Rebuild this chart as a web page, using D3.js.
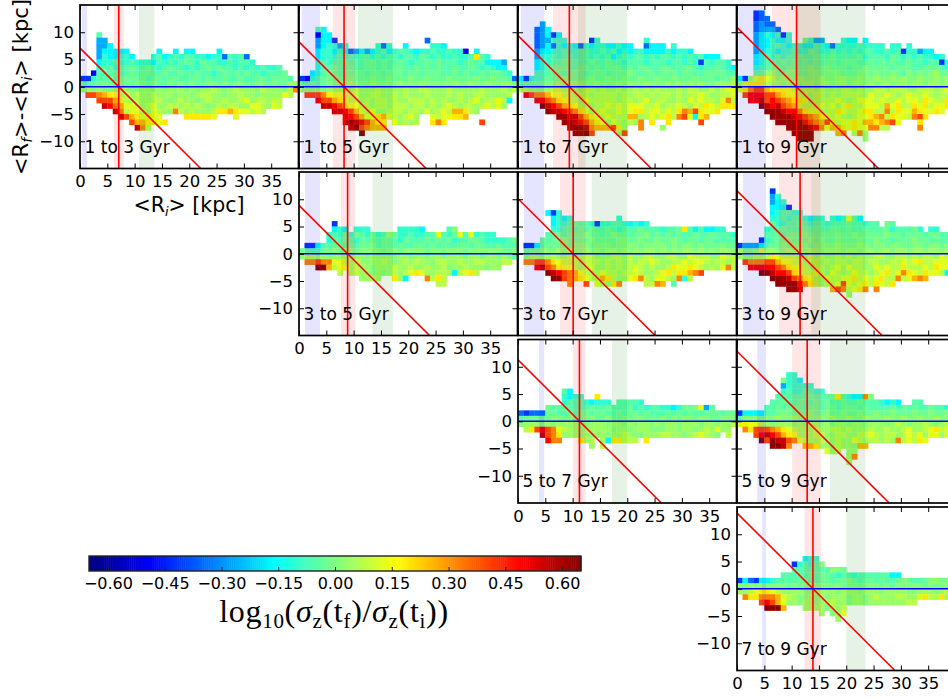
<!DOCTYPE html>
<html><head><meta charset="utf-8">
<script src="https://cdn.jsdelivr.net/npm/d3@7/dist/d3.min.js"></script>
<style>
html,body{margin:0;padding:0;background:#fff;overflow:hidden}
text{font-family:"DejaVu Sans",sans-serif;fill:#000}
</style></head><body><svg id="c" width="948" height="699"></svg>
<script>
// colour level of each letter in the data rows (log10 sigma ratio)
const levelKeys = "abcdefghijklmnopqrst".split("");
const levelVals = [-.6,-.5,-.42,-.35,-.27,-.17,-.1,-.055,-.025,.005,.035,.075,.125,.19,.26,.32,.4,.48,.56,.63];

// Each row is one 1 kpc bin in y, one letter per 1 kpc bin in x; the first row starts at the named top bin.
const top13 = 9;
const rows13 = [
"...h.","...ee","...ee f....",
"...ef ffff. ....f ..f.f f.... f....",
"...eg ffggf ...gh fghgh hggfg gdhgh d....",
"...fg ghggh gggfh ghghi hgihh gghgh hg...",
"...gh hghhi hhihg hihhg hghih ihhgh ghghg gh...",
"..bhh hihhi hiihh ihhih hihhg hihih ihhgh hhi..",
"ccghh ihiii iihii hiihh iihih hihhi hhiih iiih.",
"ihiij ijjii jjiji ijiji jiijj ijijj iijji jiikk",
"kkjkj jkkkj jkkjk jkkkj kjkkl kjklk kkjlk kkjlp",
".qqpo nmllk lkklk kkjkk jkllk kjkkl kkjkk kkml.",
"...qq qomlk lkkll kjklk kjklk klkkl mkllk ll...",
"....s rpomm lklmk kllkl klkjk lkllk kmmlk ml...",
"..... .splm mlkml kkplk lkkkl nnonm mlml. .....",
"..... ..sqo nmnmm ....n nnnnm ...m. .....",
"..... ....q oonnm n....",
"..... ..... spl.."];

const top15 = 10;
const rows15 = [
"...hf",
"...bf f....",
"...ef fc... ..... ..... ...d.",
"...ef ggeg. ....g dg..f ....g gf... ..... .....",
"...fg gfgfd efefg hfghh gfggh gghgg b.f.. .....",
"...fg gghgh ghhgh ghhgh hgihg hgghg ghnhg .....",
"...gh ghhih hhiih ihhih ghhih ihhhg hihhf ffe..",
"...gh hihhi hhiih ihiih hihih ihhih hihgh gff..",
"..fgh iihii iihii hiiih iihii ihhih ihhih iihg.",
"cbghi iiiij iiiji ijiii jiiji iijii iijii jiihd",
"iijii jjjjk jjjkj jjjkj jjkjj jjjkj jkjjk jjkkj",
"kkkkj kkkkk lkkkl kkkkl kkllk kklkk kkklk kklkl",
".qqqp nmmll lkkll kklkl kkklk kklkl kkllk kkkl.",
"...rq qonml lklkl lklkk lllkl klkkl klmkl lmlf.",
"....s srqnm mllkl lklll kllkl klmlk llklm lmk..",
"..... .ssrq omlmk klllk llkmk lmloo nlk.. .....",
"..... ...sr qommn omlkl mk..m lmmnn o.... .....",
"..... ...st srqon n.mkl kl..n pn... ...q. .....",
"..... ....s tqpoo o....",
"..... ..... .t..."];

const top17 = 11;
const rows17 = [
"....e",
"...de f....",
"...de fcf..",
"...de eggg. ...cg ..... ...g. .....",
"...de fdgfg fdgfg gffgf f..df ff.g. .....",
"...ef fgghg ghhgg hghfg fggff ffgfg gf... .....",
"...eg ghghh ghhgh ghfgh ghhgh ghhgh ghghf ff...",
"...fg ghhih hhhih hihhg hhhgh hhghh ghgch ghhg.",
"...fg hiiih hiihi hiiih ihiih hiihh iihgh hihgf",
"...hh hiihi iihii ihiii jihii hiiih iihhi iiihh",
"fcghh iiiji iiiji ijiij iijii jiiji iijii ihiik",
"hjjjj jjkjk jkjjk jjjkj kjjkj jjkjk jkjkj jkkkl",
"llkkk kllkl kkllk lkklk klklk lkkkl kllkk lklmm",
".rqpp ommll kllkl lllkl kllkl kllkl kllml kkllm",
"...rr qpnml lkmll lllkl lklmk llkkl kmlml lkmpl",
"....t srqon mllkl lmlml mmmll mkllm lkmln mlnnn",
"..... tssrq pnmkl mllml mnnlm mlmln poqnm mn...",
"..... ..tts sqonm lmlll ooklm lmnlp qmfno .....",
"..... ...tt srqon mkmlk lkp.n ..n.. ...q. .....",
"..... ....t ttspo ooqnk ..p.. .k... ..... .....",
"..... ..... tttq. ...kq"];

const top19 = 13;
const rows19 = [
"...cd",
"...cd d....",
"...de dd...",
"...de eed..",
"...ef gfgcg",
"...ef fgffg ..jge e...g ff.f. ..... .....",
"...ef fghgf ggffh gfdgg gghgg gg.gg .g... .....",
"...ef ggfgg hggih gghgh ghghh gghgh cggef f....",
"...fg hghgh hihhi hhihh hhigh hhgih ghghg gfg..",
"...fg hhhih ihihi hiihi iihhi hihih hihhg hhcg.",
"...gh hiihi iiiji ijiii hiiji iiihi iihhi iihgh",
"...ii kkiij jiijj ijjji iijji jiiji hjiji jkiij",
"fckmn mljkj jkjjj kjjkk jjkjj kjjkj kjjkj jkjkk",
"kmnnn lkkjk kjkkj kkjkk jkkjk jkkjk kjkkj kkjkl",
"mnpqq onmmm lkllk lkkkl lklkk llkll lkkll lklml",
".qrrr qqonm mllkl lklkl lllkm llmlk lmllm lkllm",
"..rrs qrqpo nnmkl lllml klmmm lmllm lmmln mllnn",
"....t srsqp omlll mlmkm nllmm mlomn llnmn lmmn.",
"..... tttsr rpnmm lllnm llmnn llpln mmonm mnm..",
"..... .tttt srqpo nmlml klmmn oplnm mlpqn .....",
"..... ..ttt ttrqp oqnlm mnmoo nopqm ...n. .....",
"..... ....t tttsr pmoon mnmmp pll.. ...p. .....",
"..... ..... tttt. ...op .lpk. ..... ..... .....",
"..... ..... .ttt. ..... ...k."];

const top35 = 5;
const rows35 = [
"..... .c...",
"..... .fgf. ggg.. ...gg ggf.. ..hj. .....",
"..... ghgig ihgig hkigg hgghh mhgim hmghg g....",
"..... ghhih gihih iihgi hhhih ihigh hiihg ggghi",
".ccfh hiihi hiijh iihih hiihi hihhi ihiih hihhh",
"iihhi ijijj ijjjj ijjij jjjij jijjj ijjjj jjiij",
"jllkk jkkkj kkjkk kkjkk jkkjk kjkkk jkkjk kjkjh",
".ppqp pmmlk lkjkk lkjkl klkkj llkkl kkllk kkll.",
"...tt olmmk lkkjk kklkk lkklk kljkk lkkkj kk...",
"..... ..l.k lkkjk jklkl mnmkk llkfl mnl.. .....",
"..... ..... .kklk ..nkf ...pl nl... ..... .....",
"..... ..... ..... ..... ..... ll..."];

const top37 = 7;
const rows37 = [
"..... fcg..",
"..... .fgfg ..... ...g.",
"..... .fggh ihhgc gghhg fgfg.",
"..... .gghh hihih hihgh hhihh hghhi nhfhf fgg..",
"..... hhihi iijii hijii hiijh ihihi hhihh ihhhg",
"....i hiiji iiiji iiijj iijii jiiji hiihi ihhhh",
".ccfi iiiji jjjij jjijj jjijj jjiji jjiji iijii",
".ijjk jjkjk jjkjk jkkjk jkjkk jkjkj kkjkj kjkkj",
".kllk klkkl kkllk kkllk lkkll kkllk kmlll kkmll",
".ppqq pnmll lklll klklk lkllm lkkll mlmml kllkl",
"...rs qpnmm lklmk klklk lmlkl kklnm mnmlk lkmpl",
"..... tsrqp omlkl mllkl lmlkk lmnln nopq. .....",
"..... .ttqp onmll onlkk mnplk mmlkp gl... .....",
"..... ....p ..q.m lknp. ...ll po.h. ..... ....."];

const top39 = 11;
const rows39 = [
"..... .c...",
"..... .eg..",
"..... .efg.",
"..... .fffc",
"..... .fghh gg...",
"..... .gghg hhgfg g.gfg mhf..",
"..... .hggh hihgh hghhh ihhgh h.ih.",
"..... ghhih hhihi hhiih ihhih hiigh hhig. gg...",
"..... hhihi iijii iiiji ijiii iijii hiiih iihh.",
"....c ghiij iiiji jiiji iijii jiihi iijii hihhh",
"ceeef hiiji jjjij jjjkj jjkji jjijj iijji jjiji",
"kjjkm kkjjk kkjkk jkkkj kkjkk jkkjk kjkkj kkjkj",
"kkkll lnmll lkklk lkklk lklkk llkkl lklkl lkmlk",
".qppp qqomm llkll klkll kllkl lkkll mlmnl lmmml",
"..rrr rrqpn mmlkl lklmk mllkk mlmll nlllm lnmmp",
"....t tsrrq nmllm lkmlk lmllk lmnlm pnmln mmlf.",
"..... .ttts qpnml kmllm mnlml mnllp lmopo .....",
"..... ..ttt trpnl kllmq mlmnl nmln. ..... .....",
"..... ....t ts... ..oqp lmnp. p.... ..... .....",
"..... ..... ..... ..... k...."];

const top57 = 5;
const rows57 = [
"..... ...hf",
"..... ...gf gg..n",
"..... ...gh hhgfg gg.hh hhg..",
"..... ihhih hhhih hihhh ighgh hggfg iijme h....",
"dcddd iihhi hiihi ihhih iihih hhihi hihhi iihii",
"hiiii ijjij iijji ijiij ijjii ijiji jjijj iijjj",
"jkkkj kjkkk kjjkk kjkkj kjkkj kjkkj kkkjk kjkkl",
".lnqr qpmlk kjkkk kkjkk jkkkj jjkkj kkjkl kmkk.",
"....s qpnkk kjkjk kjkkl kjjkk kllkk jklml kj.l.",
"..... rpp.. .nkl. kfnnl ll.n.",
"..... ..... ...k. l...."];

const top59 = 8;
const rows59 = [
"..... ....g g....",
"..... ...jg gf...",
"..... ...eg gggg.",
"..... ...gh gghhg g....",
"..... ..hhh hhhih hhjnh gffpj",
"..... .hhih hihhi hihhi hhihh hgfgf ..hh.",
"..... hhihi iihii hiihi iihih hhhih ihihh ihhgh",
"cffff hhiji iiiji ijiij iijii jiiji iijii jiiji",
"hjjjj jjkjj kjkjj jjkjj kjjkj jjkjj kjjkj jkjjk",
"mnmml kjkkk jkjkk jkjkk jkkjk kkjkl kjkkl kjkll",
".pnqq qponm lkkkl kkllk lkkkl kklkk lmkkl mnlmm",
"...qr srqon mkkkl lkkll kkllm lkllk lmlmk mmkmm",
"....t qtssq pmlkk lkklk kmlkl lklkp lmlnm .....",
"..... .ttsp ..oon kkklk kjoo.",
"..... ..... ..... .mkl. kk...",
"..... ..... ..... ..... kp...",
"..... ..... ..... ..... k...."];

const top79 = 5;
const rows79 = [
"..... ..... ..fgg",
"..... ..... cghgh j....",
"..... ..... hhhhh hhjji",
"..... ...hh hhhih iihgh hghhh hhhff",
"cfdcf fghhh hiihh iihii jihii hihhi jihhi jkijj",
"jjjjj jjjji jijjj jjjji jjijj jijij jjjji jijjj",
"kklmn nmlkk kkjjk kkkjk kkjkk kjkkk kjjkk kjkll",
".pnnp ppoml kjjkj kjkkk jkkjk lkkkl lkkmn llnkl",
"....q rqomk kjkkj kklkk jkkjk kkkkk kll.. .....",
"..... ttto. ..kkk kjkkl",
"..... ..... ..... k.jkm",
"..... ..... ..... ...k."];

const panelNames = ["1 to 3 Gyr","1 to 5 Gyr","1 to 7 Gyr","1 to 9 Gyr","3 to 5 Gyr","3 to 7 Gyr","3 to 9 Gyr","5 to 7 Gyr","5 to 9 Gyr","7 to 9 Gyr"];
const panelCols = [0,1,2,3,1,2,3,2,3,3];
const panelRows = [0,0,0,0,1,1,1,2,2,3];
const topBins = [top13,top15,top17,top19,top35,top37,top39,top57,top59,top79];
const panelData = [rows13,rows15,rows17,rows19,rows35,rows37,rows39,rows57,rows59,rows79];
const redLine = [7.1,8.25,9.4,10.9,8.9,10.1,11.55,11.25,12.85,13.9];
const blueBand = [[.3,1.3],[.5,3.85],[.5,4.8],[.25,5.3],[1.1,3.85],[1.1,4.8],[1.1,5.3],[3.85,4.8],[3.7,5.3],[4.6,5.3]];
const redBand = [[6.2,8],[6.2,10.3],[6.4,12.4],[6.4,15.3],[7.7,10.3],[7.7,12.4],[7.7,15.3],[10.1,12.4],[10.1,15.35],[12.35,15.35]];
const greenBand = [[10.8,13.6],[10.8,17.2],[11,20],[11,23.5],[13.45,17.2],[13.5,20],[13.6,23.5],[17.2,20],[17,23.5],[20,23.5]];
const xTicks = [0,5,10,15,20,25,30,35];
const yTicks = [-10,-5,0,5,10];
const cbTicks = [-.6,-.45,-.3,-.15,0,.15,.3,.45,.6];
const vLim = [-.65,.65];

const colLeft = [80,299,518,737], rowTop = [5,172,339.5,507];
const panelW = 218.5, panelH = 163.5, fontTick = 16.5;

function jet(t){
  const c = v => Math.max(0,Math.min(1,v));
  const r = c(Math.min(4*t-1.5,-4*t+4.5)), g = c(Math.min(4*t-.5,-4*t+3.5)), b = c(Math.min(4*t+.5,-4*t+2.5));
  return d3.rgb(r*255,g*255,b*255);
}
const toT = d3.scaleLinear().domain(vLim).range([0,1]).clamp(true);
const color = v => jet(toT(v));
const levelOf = new Map(levelKeys.map((k,i)=>[k,levelVals[i]]));

const svg = d3.select("#c");
const defs = svg.append("defs");
defs.append("filter").attr("id","soft").attr("x","-5%").attr("y","-5%").attr("width","110%").attr("height","110%")
  .append("feGaussianBlur").attr("stdDeviation",.45);

panelNames.forEach((name,i)=>{
  const L = colLeft[panelCols[i]], T = rowTop[panelRows[i]];
  const x = d3.scaleLinear().domain([0,40]).range([L,L+panelW]);
  const y = d3.scaleLinear().domain([-15,15]).range([T+panelH,T]);
  const g = svg.append("g");
  defs.append("clipPath").attr("id","clip"+i).append("rect").attr("x",L).attr("y",T).attr("width",panelW).attr("height",panelH);
  const plot = g.append("g").attr("clip-path",`url(#clip${i})`);
  const cells = [];
  panelData[i].forEach((s,r)=>{
    s.replace(/ /g,"").split("").forEach((ch,col)=>{
      if(levelOf.has(ch)) cells.push({col,bin:topBins[i]-r,v:levelOf.get(ch)});
    });
  });
  plot.append("g").attr("filter","url(#soft)").selectAll("rect").data(cells).join("rect")
    .attr("x",d=>x(d.col)).attr("y",d=>y(d.bin+1))
    .attr("width",d=>x(d.col+1)-x(d.col)+.3).attr("height",d=>y(d.bin)-y(d.bin+1)+.3)
    .attr("fill",d=>color(d.v));
  [[blueBand[i],"#0000ff"],[redBand[i],"#ff0000"],[greenBand[i],"#008000"]].forEach(([b,c])=>{
    plot.append("rect").attr("x",x(b[0])).attr("y",T).attr("width",x(b[1])-x(b[0])).attr("height",panelH)
      .attr("fill",c).attr("fill-opacity",.1);
  });
  const r0 = redLine[i];
  plot.append("line").attr("x1",x(r0)).attr("x2",x(r0)).attr("y1",T).attr("y2",T+panelH).attr("stroke","#f00").attr("stroke-width",1.6);
  plot.append("line").attr("x1",x(0)).attr("y1",y(r0)).attr("x2",x(r0+15)).attr("y2",y(-15)).attr("stroke","#f00").attr("stroke-width",1.6);
  plot.append("line").attr("x1",x(0)).attr("x2",x(40)).attr("y1",y(0)).attr("y2",y(0)).attr("stroke","#0000ff").attr("stroke-width",1.5);

  const labelled = panelCols[i]===panelRows[i];
  const ax = [
    d3.axisBottom(x).tickValues(xTicks).tickSize(-5).tickPadding(7),
    d3.axisTop(x).tickValues(xTicks).tickSize(-5).tickFormat(""),
    d3.axisLeft(y).tickValues(yTicks).tickSize(-5).tickPadding(6),
    d3.axisRight(y).tickValues(yTicks).tickSize(-5).tickFormat("")
  ];
  if(!labelled){ ax[0].tickFormat(""); ax[2].tickFormat(""); }
  const at = [[0,T+panelH],[0,T],[L,0],[L+panelW,0]];
  ax.forEach((a,k)=>{
    const ag = g.append("g").attr("transform",`translate(${at[k][0]},${at[k][1]})`).call(a);
    ag.select(".domain").remove();
    ag.selectAll("line").attr("stroke","#000").attr("stroke-width",1);
    ag.selectAll("text").attr("font-size",fontTick).attr("font-family","DejaVu Sans");
  });
  g.append("rect").attr("x",L).attr("y",T).attr("width",panelW).attr("height",panelH)
    .attr("fill","none").attr("stroke","#000").attr("stroke-width",1.7);
  g.append("text").attr("x",L+4.5).attr("y",y(0)+66).attr("font-size",17).text(name);
});

// axis titles
const xt = svg.append("text").attr("x",189).attr("y",212).attr("text-anchor","middle").attr("font-size",20.5);
xt.append("tspan").text("<R");
xt.append("tspan").attr("font-size",13).attr("font-style","italic").attr("dy",4).text("i");
xt.append("tspan").attr("dy",-4).text("> [kpc]");
const yt = svg.append("text").attr("transform","translate(28,87) rotate(-90)").attr("text-anchor","middle").attr("font-size",21);
yt.append("tspan").text("<R");
yt.append("tspan").attr("font-size",14).attr("font-style","italic").attr("dy",4).text("f");
yt.append("tspan").attr("dy",-4).text(">-<R");
yt.append("tspan").attr("font-size",14).attr("font-style","italic").attr("dy",4).text("i");
yt.append("tspan").attr("dy",-4).text("> [kpc]");

// colour bar
const cbL = 89, cbR = 581, cbT = 556, cbB = 571;
const cbx = d3.scaleLinear().domain(vLim).range([cbL,cbR]);
const steps = d3.range(256).map(k=>vLim[0]+(vLim[1]-vLim[0])*k/256);
svg.append("g").selectAll("rect").data(steps).join("rect")
  .attr("x",d=>cbx(d)).attr("y",cbT).attr("width",(cbR-cbL)/256+.5).attr("height",cbB-cbT).attr("fill",d=>color(d));
const cbAxis = d3.axisBottom(cbx).tickValues(cbTicks).tickFormat(d3.format(".2f")).tickSize(-4).tickPadding(7);
const cg = svg.append("g").attr("transform",`translate(0,${cbB})`).call(cbAxis);
cg.select(".domain").remove();
cg.selectAll("line").attr("stroke","#222");
cg.selectAll("text").attr("font-size",16).attr("font-family","DejaVu Sans");
svg.append("rect").attr("x",cbL).attr("y",cbT).attr("width",cbR-cbL).attr("height",cbB-cbT).attr("fill","none").attr("stroke","#222").attr("stroke-width",1.4);

const lab = svg.append("text").attr("x",334).attr("y",622).attr("text-anchor","middle").attr("font-size",32).attr("letter-spacing",.7).style("font-family","'Liberation Serif',serif");
const seg = [["log",0],["10",1],["(",0],["σ",2],["z",1],["(t",0],["f",1],[")/",0],["σ",2],["z",1],["(t",0],["i",1],["))",0]];
let dyPrev = 0;
seg.forEach(([t,k])=>{
  const d = k===1 ? 6 : 0;
  const s = lab.append("tspan").attr("dy",d-dyPrev).text(t);
  if(k===1) s.attr("font-size",21);
  if(k===2) s.attr("font-style","italic");
  dyPrev = d;
});
</script></body></html>
